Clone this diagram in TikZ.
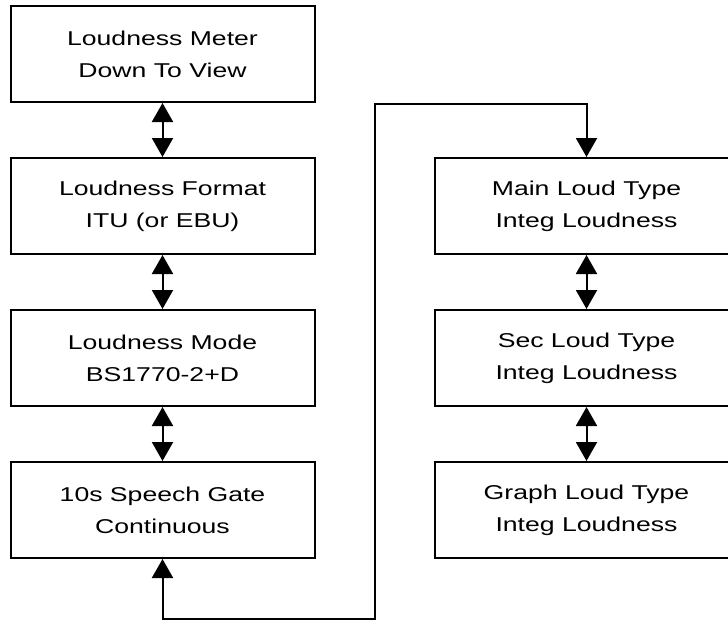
\documentclass[tikz,border=0pt]{standalone}
\usepackage{fontspec}
\setmainfont{Liberation Sans}[FakeStretch=1.33]
\usetikzlibrary{positioning, calc, arrows.meta}

\begin{document}
\begin{tikzpicture}[block/.style={rectangle, draw, line width=2pt, align=center, minimum width=304pt, minimum height=96pt, inner sep=0pt, font=\fontsize{20}{32}\selectfont},
link/.style={{Triangle[width=21pt,length=19pt]}-{Triangle[width=21pt,length=19pt]}, line width=2pt}]

\useasboundingbox (0,0) rectangle (728pt,-624pt);

% LEFT COLUMN

\node [block] (meter) at (162.5pt,-54pt) {Loudness Meter\\Down To View};
\node [block, below=54pt of meter] (format) {Loudness Format\\ITU (or EBU)};
\node [block, below=54pt of format] (mode) {Loudness Mode\\BS1770-2+D};
\node [block, below=54pt of mode] (gate) {10s Speech Gate\\Continuous};

% RIGHT COLUMN

\node [block, right=118pt of format] (main) {Main Loud Type\\Integ Loudness};
\node [block, below=54pt of main] (sec) {Sec Loud Type\\Integ Loudness};
\node [block, below=54pt of sec] (graph) {Graph Loud Type\\Integ Loudness};

% CONNECTIONS

\draw[link] (meter.south) -- (format.north);
\draw[link] (format.south) -- (mode.north);
\draw[link] (mode.south) -- (gate.north);
\draw[link] (main.south) -- (sec.north);
\draw[link] (sec.south) -- (graph.north);
\draw[link] (gate.south) -- ++(0,-60pt) -| ($(main.north) + (-211.5pt,53pt)$) -| (main.north);

\end{tikzpicture}
\end{document}
